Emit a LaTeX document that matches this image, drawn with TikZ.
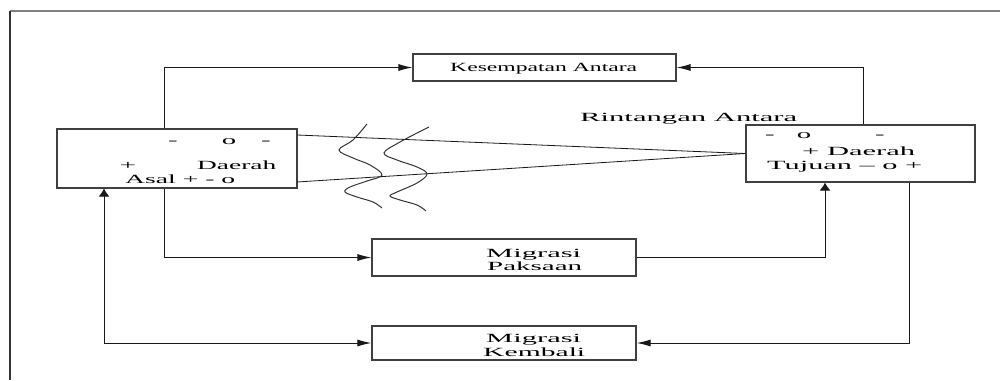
\documentclass[tikz,border=0pt]{standalone}
\usepackage{fontspec}
\usepackage{graphicx}
\setmainfont{Liberation Serif}
\usetikzlibrary{arrows.meta,calc}

% stretched lettering: #1 = printed width (pt), #2 = text
\newcommand{\wtxt}[2]{\resizebox{#1pt}{\height}{#2}}
\newcommand{\wsym}[1]{\scalebox{2.3}[1]{#1}}

\tikzset{
  box/.style={draw=black!75, line width=1.2pt, inner sep=0pt, fill=white},
  lbl/.style={inner sep=0pt, anchor=base west, text=black,
              font=\fontsize{12.5}{14}\selectfont},
  sym/.style={inner sep=0pt, anchor=base, text=black,
              font=\fontsize{12.5}{14}\selectfont},
  conn/.style={draw=black!90, line width=1pt},
  harr/.style={-{Latex[length=14pt,width=7pt]}},
  varr/.style={-{Latex[length=8pt,width=11pt]}},
  wave/.style={draw=black!80, line width=1pt},
}

\begin{document}
\begin{tikzpicture}[x=1pt, y=-1pt]
\useasboundingbox (0,0) rectangle (1000,380);

% page frame
\draw[black!50, line width=1.4pt] (10,11) -- (1000,11);
\draw[black!80, line width=2pt] (10,11) -- (10,380);

% boxes
\node[box, minimum width=240pt, minimum height=59pt] (L) at (177,158.5) {};
\node[box, minimum width=229pt, minimum height=57pt] (R) at (860.5,153.5) {};
\node[box, minimum width=263pt, minimum height=27pt] (K) at (544.5,67.5) {};
\node[box, minimum width=264pt, minimum height=37pt] (P) at (504,257.5) {};
\node[box, minimum width=264pt, minimum height=34pt] (M) at (504,343) {};

% x positions of the vertical connector legs
\coordinate (xa) at (164,0);
\coordinate (xb) at (863,0);
\coordinate (xc) at (825,0);
\coordinate (xd) at (909,0);
\coordinate (xe) at (104,0);

% connectors
\draw[conn, harr] (L.north -| xa) |- (K.west);
\draw[conn, harr] (R.north -| xb) |- (K.east);
\draw[conn, harr] (L.south -| xa) |- (P.west);
\coordinate (pc) at (P.east -| xc);
\draw[conn] (P.east) -- (pc);
\draw[conn, varr] (pc) -- (R.south -| xc);
\draw[conn, harr] (R.south -| xd) |- (M.east);
\coordinate (mc) at (M.west -| xe);
\draw[conn, harr] (mc) -- (M.west);
\draw[conn, varr] (mc) -- (L.south -| xe);

% converging lines between the two areas
\coordinate (ltop) at (297,135);
\coordinate (lbot) at (297,182);
\coordinate (rpt) at (R.west);
\draw[conn, line width=0.8pt] (ltop) -- (rpt);
\draw[conn, line width=0.8pt] (lbot) -- (rpt);

% intervening obstacles
\draw[wave] plot[smooth, tension=0.6] coordinates {
  (367,124) (353,140) (339,150) (353,158) (370,165) (382,175)
  (367,181) (350,187) (345,192) (357,197) (373,202) (382,208)};
\draw[wave] plot[smooth, tension=0.6] coordinates {
  (429,127) (400,142) (384,153) (397,160) (417,167) (427,174)
  (417,183) (397,192) (390,196) (400,200) (417,205) (426,211)};

% labels
\node[lbl] (tK) at (450,71) {\wtxt{187}{Kesempatan Antara}};
\node[lbl] (tRA) at (580,121) {\wtxt{217}{Rintangan Antara}};

\node[lbl] (tP1) at (486,257) {\wtxt{95}{Migrasi}};
\node[lbl] (tP2) at (487,270) {\wtxt{95}{Paksaan}};
\node[lbl] (tM1) at (486,342) {\wtxt{95}{Migrasi}};
\node[lbl] (tM2) at (483,356) {\wtxt{102}{Kembali}};

% origin area
\node[sym] (l1a) at (173,144) {\wsym{-}};
\node[sym] (l1b) at (229,144) {\wsym{o}};
\node[sym] (l1c) at (266,144) {\wsym{-}};
\node[sym] (l2a) at (128,169) {\wsym{+}};
\node[lbl] (l2b) at (197,169) {\wtxt{79}{Daerah}};
\node[lbl] (l3) at (125,183) {\wtxt{110}{Asal + - o}};

% destination area
\node[sym] (r1a) at (770,138) {\wsym{-}};
\node[sym] (r1b) at (804,138) {\wsym{o}};
\node[sym] (r1c) at (880,138) {\wsym{-}};
\node[lbl] (r2) at (802,155) {\wtxt{113}{+ Daerah}};
\node[lbl] (r3) at (767,169) {\wtxt{155}{Tujuan – o +}};
\end{tikzpicture}
\end{document}
